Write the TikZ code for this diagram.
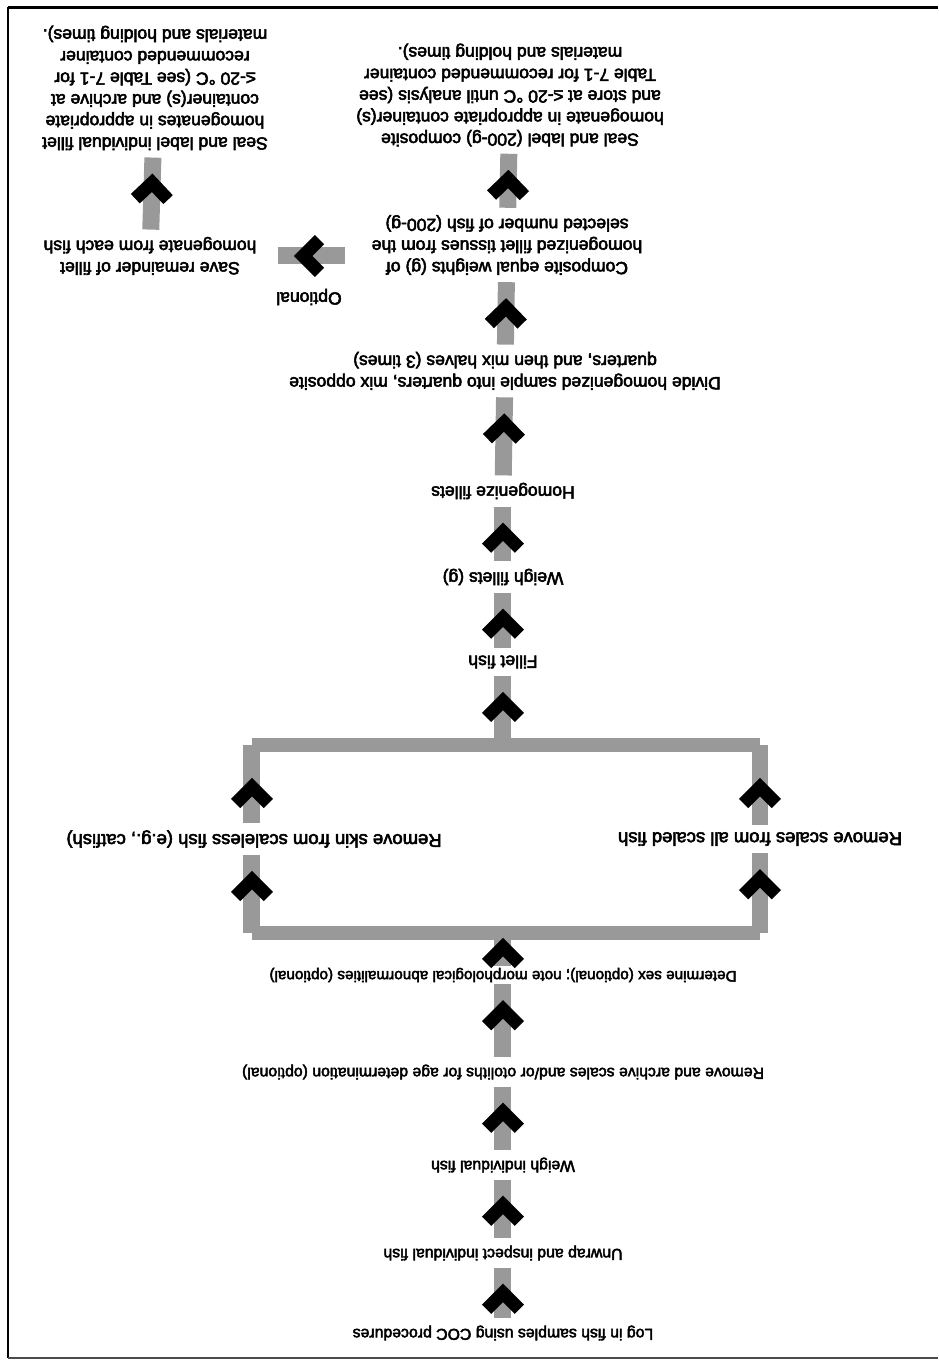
\documentclass[tikz,border=0pt]{standalone}
\usepackage{fontspec}
\setmainfont{Liberation Sans}
\newfontfamily\stagefont{Liberation Sans}[FakeBold=3]
\usetikzlibrary{decorations.markings}

% chevron head of the block arrows, tip at the origin
\newcommand{\chevron}{\fill[black] (0,0) -- (-21,21) -- (-30.2,11.8) -- (-18.4,0) -- (-30.2,-11.8) -- (-21,-21) -- cycle;}

\tikzset{
  stage/.style={align=center, inner xsep=2pt, inner ysep=4pt, font=\stagefont\fontsize{#1}{12.3}\selectfont},
  stage/.default=9,
  flow/.style={draw=black!40, line width=0.34cm, postaction={decorate},
    decoration={markings, mark=at position -#1 with {\chevron}}},
  flow/.default=0.32cm,
  bar/.style={draw=black!40, line width=0.28cm, line cap=square},
}

\begin{document}
\begin{tikzpicture}[x=0.02cm, y=-0.02cm, rotate=180,
    every node/.append style={transform shape}]

        \useasboundingbox (0,0) rectangle (938,1361);

        % frame
        \draw[line width=0.06cm] (0,1353) -- (930,1353);
        \draw[line width=0.04cm] (930,1354) -- (930,3);
        \draw[black!70, line width=0.03cm] (930,3) -- (0,3);

        % steps
        \node[stage] (login) at (435,28) {Log in fish samples using COC procedures};
        \node[stage] (unwrap) at (435,108) {Unwrap and inspect individual fish};
        \node[stage] (weighfish) at (435,196) {Weigh individual fish};
        \node[stage] (archive) at (435,289) {Remove and archive scales and/or otoliths for age determination (optional)};
        \node[stage=8.7, inner ysep=1pt] (sex) at (435,386) {Determine sex (optional); note morphological abnormalities (optional)};

        \coordinate (splitL) at (178,428);
        \coordinate (splitM) at (435,428);
        \coordinate (splitR) at (686,428);

        \node[stage=10.5] (scales) at (178,522) {Remove scales from all scaled fish};
        \node[stage=10.5] (skin) at (684,522) {Remove skin from scaleless fish (e.g., catfish)};

        \coordinate (joinL) at (178,616);
        \coordinate (joinM) at (435,616);
        \coordinate (joinR) at (686,616);

        \node[stage=10] (fillet) at (435,699) {Fillet fish};
        \node[stage=10] (weighfil) at (435,784) {Weigh fillets (g)};
        \node[stage=10] (homog) at (435,870) {Homogenize fillets};
        \node[stage=10] (divide) at (433,990) {Divide homogenized sample into quarters, mix opposite\\quarters, and then mix halves (3 times)};
        \node[stage=10, outer xsep=0.46cm] (comp) at (431,1116) {Composite equal weights (g) of\\homogenized fillet tissues from the\\selected number of fish (200-g)};
        \node[stage=10] (seal) at (428,1266) {Seal and label (200-g) composite\\homogenate in appropriate container(s)\\and store at ≤-20 °C until analysis (see\\Table 7-1 for recommended container\\materials and holding times).};

        \node[stage=10] (opt) at (629,1064) {Optional};
        \node[stage=10, outer xsep=0.36cm] (save) at (788,1105) {Save remainder of fillet\\homogenate from each fish};
        \node[stage=10] (sealind) at (783,1273) {Seal and label individual fillet\\homogenates in appropriate\\container(s) and archive at\\≤-20 °C (see Table 7-1 for\\recommended container\\materials and holding times).};

        % bars
        \draw[bar] (splitL) -- (splitR);
        \draw[bar] (joinL) -- (joinR);

        % arrows
        \draw[flow] (login) -- (unwrap);
        \draw[flow] (unwrap) -- (weighfish);
        \draw[flow] (weighfish) -- (archive);
        \draw[flow] (archive) -- (sex);
        \draw[flow=0.1cm] (sex) -- (splitM);
        \draw[flow] (splitL) -- (scales);
        \draw[flow] (splitR) -- (skin.north -| splitR);
        \draw[flow=0.66cm] (scales) -- (joinL);
        \draw[flow=0.66cm] (skin.south -| joinR) -- (joinR);
        \draw[flow] (joinM) -- (fillet);
        \draw[flow] (fillet) -- (weighfil);
        \draw[flow] (weighfil) -- (homog);
        \draw[flow] (homog) -- (divide);
        \draw[flow] (divide) -- (comp);
        \draw[flow] (comp) -- (seal);
        \draw[flow] (comp.east |- save.west) -- (save.west);
        \draw[flow] (save) -- (sealind);

\end{tikzpicture}
\end{document}
